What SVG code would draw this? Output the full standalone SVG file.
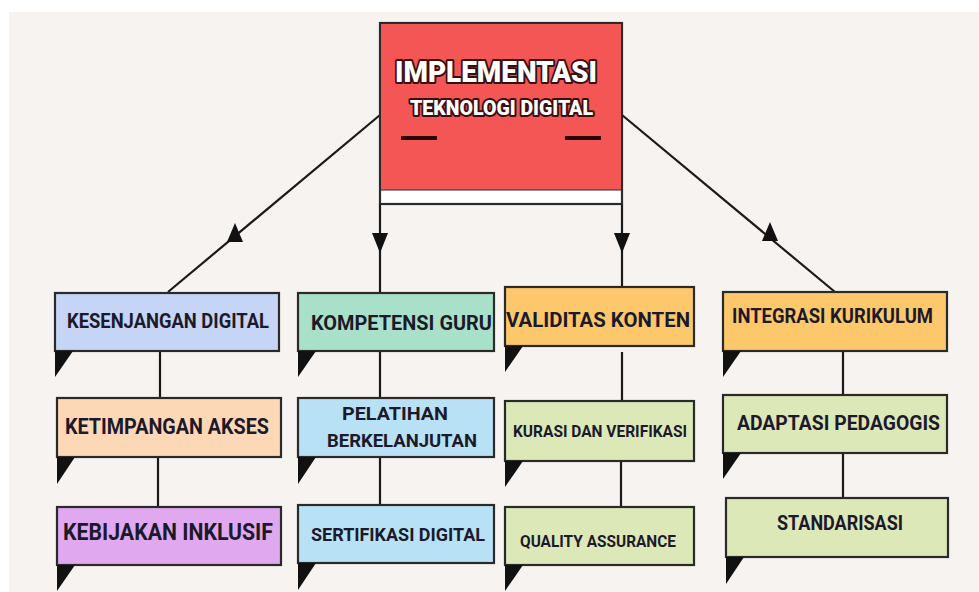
<svg xmlns="http://www.w3.org/2000/svg" width="979" height="592" viewBox="0 0 979 592">
<defs>
<style>
.box{stroke:#2a2a2a;stroke-width:2.2}
.t{font-family:Roboto,"Liberation Sans",sans-serif;font-weight:700;fill:#1c1a2a;text-anchor:start}
.c{stroke:#1a1a1a;stroke-width:2.2;fill:none}
.tri{fill:#111}
.title{font-family:Roboto,"Liberation Sans",sans-serif;font-weight:900;fill:#fff;stroke:#3a0e10;stroke-width:4;paint-order:stroke;stroke-linejoin:round}
</style>
</defs>
<rect width="979" height="592" fill="#ffffff"/>
<rect x="9" y="12" width="970" height="580" fill="#f7f3f0"/>

<g id="connectors">
<line class="c" x1="380" y1="115" x2="168" y2="292"/>
<polygon class="tri" points="235,223 227,242 243,242"/>
<line class="c" x1="380" y1="204" x2="380" y2="293"/>
<polygon class="tri" points="372,233 388,233 380,253"/>
<line class="c" x1="622" y1="204" x2="622" y2="287"/>
<polygon class="tri" points="614,233 630,233 622,253"/>
<line class="c" x1="622" y1="115" x2="835" y2="292"/>
<polygon class="tri" points="770,222 762,241 778,241"/>
<line class="c" x1="160" y1="351" x2="160" y2="398"/>
<line class="c" x1="158" y1="457" x2="158" y2="507"/>
<line class="c" x1="380" y1="351" x2="380" y2="398"/>
<line class="c" x1="380" y1="457" x2="380" y2="505"/>
<line class="c" x1="622" y1="352" x2="622" y2="401"/>
<line class="c" x1="621" y1="461" x2="621" y2="507"/>
<line class="c" x1="843" y1="351" x2="843" y2="395"/>
<line class="c" x1="843" y1="453" x2="843" y2="498"/>
</g>

<g id="main">
<rect x="380" y="23" width="242" height="181" fill="#fff" class="box"/>
<rect x="381" y="24" width="240" height="166" fill="#f45656"/>
<line x1="380" y1="190" x2="622" y2="190" stroke="#2a2a2a" stroke-width="1"/>
<text class="title" x="395" y="82" font-size="30" textLength="202" lengthAdjust="spacingAndGlyphs">IMPLEMENTASI</text>
<text class="title" x="410" y="115" font-size="20" textLength="183" lengthAdjust="spacingAndGlyphs" stroke-width="3.5">TEKNOLOGI DIGITAL</text>
<line x1="401" y1="138" x2="437" y2="138" stroke="#2a0808" stroke-width="4"/>
<line x1="565" y1="138" x2="601" y2="138" stroke="#2a0808" stroke-width="4"/>
</g>

<g id="kesenjangan">
<rect class="box" x="55" y="293" width="224" height="58" fill="#c6d4f6"/>
<polygon class="tri" points="55,351 73,351 55,377"/>
<text class="t" x="67" y="328" font-size="20" textLength="202" lengthAdjust="spacingAndGlyphs">KESENJANGAN DIGITAL</text>
</g>
<g id="ketimpangan">
<rect class="box" x="57" y="398" width="224" height="59" fill="#fcd8b6"/>
<polygon class="tri" points="57,457 75,457 57,484"/>
<text class="t" x="65" y="434" font-size="22" textLength="204" lengthAdjust="spacingAndGlyphs">KETIMPANGAN AKSES</text>
</g>
<g id="kebijakan">
<rect class="box" x="57" y="507" width="224" height="58" fill="#dfa8ef"/>
<polygon class="tri" points="57,565 75,565 57,591"/>
<text class="t" x="63" y="540" font-size="24" textLength="210" lengthAdjust="spacingAndGlyphs">KEBIJAKAN INKLUSIF</text>
</g>

<g id="kompetensi">
<rect class="box" x="298" y="293" width="196" height="58" fill="#a9e0c9"/>
<polygon class="tri" points="298,351 316,351 298,377"/>
<text class="t" x="311" y="330" font-size="21" textLength="181" lengthAdjust="spacingAndGlyphs">KOMPETENSI GURU</text>
</g>
<g id="pelatihan">
<rect class="box" x="298" y="398" width="196" height="59" fill="#b9e1f5"/>
<polygon class="tri" points="298,457 316,457 298,484"/>
<text class="t" x="342" y="420" font-size="18" textLength="106" lengthAdjust="spacingAndGlyphs">PELATIHAN</text>
<text class="t" x="327" y="447" font-size="18" textLength="150" lengthAdjust="spacingAndGlyphs">BERKELANJUTAN</text>
</g>
<g id="sertifikasi">
<rect class="box" x="298" y="505" width="196" height="58" fill="#b9e1f5"/>
<polygon class="tri" points="298,563 316,563 298,590"/>
<text class="t" x="311" y="541" font-size="19" textLength="174" lengthAdjust="spacingAndGlyphs">SERTIFIKASI DIGITAL</text>
</g>

<g id="validitas">
<rect class="box" x="505" y="287" width="189" height="59" fill="#fcc86b"/>
<polygon class="tri" points="505,346 523,346 505,372"/>
<text class="t" x="506" y="327" font-size="21" textLength="184" lengthAdjust="spacingAndGlyphs">VALIDITAS KONTEN</text>
</g>
<g id="kurasi">
<rect class="box" x="505" y="401" width="189" height="60" fill="#dde8b9"/>
<polygon class="tri" points="505,461 523,461 505,487"/>
<text class="t" x="513" y="437" font-size="16" textLength="174" lengthAdjust="spacingAndGlyphs">KURASI DAN VERIFIKASI</text>
</g>
<g id="quality">
<rect class="box" x="505" y="507" width="189" height="58" fill="#dde8b9"/>
<polygon class="tri" points="505,565 523,565 505,591"/>
<text class="t" x="520" y="547" font-size="17" textLength="156" lengthAdjust="spacingAndGlyphs">QUALITY ASSURANCE</text>
</g>

<g id="integrasi">
<rect class="box" x="723" y="292" width="224" height="59" fill="#fcc86b"/>
<polygon class="tri" points="723,351 741,351 723,377"/>
<text class="t" x="732" y="323" font-size="20" textLength="201" lengthAdjust="spacingAndGlyphs">INTEGRASI KURIKULUM</text>
</g>
<g id="adaptasi">
<rect class="box" x="723" y="395" width="224" height="58" fill="#dde8b9"/>
<polygon class="tri" points="723,453 741,453 723,479"/>
<text class="t" x="737" y="430" font-size="20" textLength="203" lengthAdjust="spacingAndGlyphs">ADAPTASI PEDAGOGIS</text>
</g>
<g id="standarisasi">
<rect class="box" x="726" y="498" width="222" height="59" fill="#dde8b9"/>
<polygon class="tri" points="726,557 744,557 726,584"/>
<text class="t" x="777" y="530" font-size="20" textLength="126" lengthAdjust="spacingAndGlyphs">STANDARISASI</text>
</g>
</svg>
